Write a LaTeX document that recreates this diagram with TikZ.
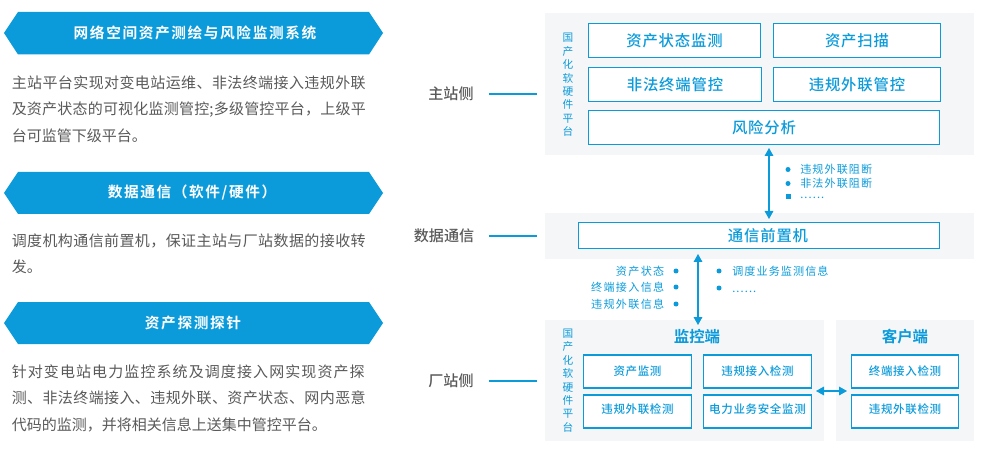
\documentclass[tikz,border=0pt]{standalone}
\usepackage{fontspec}
\setmainfont{Noto Sans CJK SC}
\newfontfamily\banfont[LetterSpace=11]{Noto Sans CJK SC Bold}
\newfontfamily\modfont[LetterSpace=5.5]{Noto Sans CJK SC Medium}
\newfontfamily\notefont[LetterSpace=10]{Noto Sans CJK SC}
\newfontfamily\smallfont[LetterSpace=6]{Noto Sans CJK SC Medium}
\newfontfamily\sidefont{Noto Sans CJK SC Medium}
\newfontfamily\headfont{Noto Sans CJK SC Bold}
\newcommand{\spreadline}[2]{{\addfontfeature{LetterSpace=#1}#2}}
\usepackage{tikz}
\usetikzlibrary{arrows.meta}
\definecolor{bluefill}{HTML}{0B9BDB}
\definecolor{panelgray}{HTML}{F5F6F8}
\definecolor{bodygray}{HTML}{595959}
\tikzset{
  banner/.style={text=white,font=\banfont\fontsize{11pt}{13pt}\selectfont,inner sep=0pt},
  para/.style={text=bodygray,anchor=west,align=left,inner sep=0pt,font=\fontsize{11.25pt}{19.9pt}\selectfont},
  side/.style={text=bodygray,inner sep=0pt,font=\sidefont\fontsize{11.3pt}{13pt}\selectfont},
  module/.style={draw=bluefill,line width=0.9pt,fill=white,text=bluefill,inner sep=0pt,font=\modfont\fontsize{11.5pt}{14pt}\selectfont},
  smallmodule/.style={module,font=\smallfont\fontsize{8.6pt}{11pt}\selectfont},
  head/.style={text=bluefill,inner sep=0pt,font=\headfont\fontsize{11.6pt}{13pt}\selectfont},
  vert/.style={text=bluefill,inner sep=0pt,align=center,font=\fontsize{8pt}{10.05pt}\selectfont},
  note/.style={text=bluefill,inner sep=0pt,font=\notefont\fontsize{8.3pt}{10pt}\selectfont},
  link/.style={draw=bluefill,line width=0.8pt},
  both/.style={link,{Triangle[length=6pt,width=6.5pt]}-{Triangle[length=6pt,width=6.5pt]}},
}
\begin{document}
\begin{tikzpicture}[x=0.75pt,y=-0.75pt]
\useasboundingbox (0,0) rectangle (981,452);

%banners
\fill[bluefill] (4,33) -- (18,12) -- (369,12) -- (383,33) -- (369,54.5) -- (18,54.5) -- cycle;
\fill[bluefill] (4,193) -- (18,172) -- (369,172) -- (383,193) -- (369,214) -- (18,214) -- cycle;
\fill[bluefill] (4,323) -- (18,302) -- (369,302) -- (383,323) -- (369,344) -- (18,344) -- cycle;
\node[banner] (systitle) at (195,33) {网络空间资产测绘与风险监测系统};
\node[banner] (commtitle) at (192,193) {数据通信（软件/硬件）};
\node[banner] (probetitle) at (193,323) {资产探测探针};

%paragraphs
\node[para] (systext) at (11.5,109) {\spreadline{2.7}{主站平台实现对变电站运维、非法终端接入违规外联}\\\spreadline{1.4}{及资产状态的可视化监测管控;多级管控平台，上级平}\\台可监管下级平台。};
\node[para] (commtext) at (11.5,254) {\spreadline{2.7}{调度机构通信前置机，保证主站与厂站数据的接收转}\\发。};
\node[para] (probetext) at (11.5,398) {\spreadline{7.3}{针对变电站电力监控系统及调度接入网实现资产探}\\\spreadline{2.7}{测、非法终端接入、违规外联、资产状态、网内恶意}\\代码的监测，并将相关信息上送集中管控平台。};

%panels
\fill[panelgray] (545,13) rectangle (974,155);
\fill[panelgray] (545,213) rectangle (974,259);
\fill[panelgray] (545,320) rectangle (824,441);
\fill[panelgray] (836,320) rectangle (974,441);

%side labels
\node[side] (mainside) at (451,94) {主站侧};
\node[side] (commside) at (444,236) {数据通信};
\node[side] (plantside) at (451,381) {厂站侧};
\coordinate (mainend) at (537,94);
\coordinate (commend) at (537,236);
\coordinate (plantend) at (537,381);
\coordinate (mainstart) at (489,94);
\coordinate (commstart) at (489,236);
\coordinate (plantstart) at (489,381);
\draw[link] (mainstart) -- (mainend);
\draw[link] (commstart) -- (commend);
\draw[link] (plantstart) -- (plantend);

%vertical text
\node[vert] (topvert) at (568,85) {国\\产\\化\\软\\硬\\件\\平\\台};
\node[vert] (lowvert) at (568,380.5) {国\\产\\化\\软\\硬\\件\\平\\台};

%top boxes
\node[module,minimum width=172pt*0.75,minimum height=34pt*0.75] (state) at (674.5,40.5) {\raisebox{-3pt}{资产状态监测}};
\node[module,minimum width=167pt*0.75,minimum height=34pt*0.75] (scan) at (857,40.5) {\raisebox{-3pt}{资产扫描}};
\node[module,minimum width=173pt*0.75,minimum height=34pt*0.75] (illegal) at (675,84.5) {非法终端管控};
\node[module,minimum width=167pt*0.75,minimum height=34pt*0.75] (violate) at (857,84.5) {违规外联管控};
\node[module,minimum width=351pt*0.75,minimum height=34pt*0.75] (risk) at (764,127.5) {风险分析};
%front box
\node[module,minimum width=361pt*0.75,minimum height=26pt*0.75] (front) at (759,235.5) {\hspace*{13.5pt}通信前置机};

%plant side
\node[head] (monitor) at (697,337) {监控端};
\node[head] (client) at (905,337) {客户端};
\node[smallmodule,minimum width=108pt*0.75,minimum height=33pt*0.75] (assetmon) at (637.5,371.5) {资产监测};
\node[smallmodule,minimum width=108pt*0.75,minimum height=33pt*0.75] (accessdet) at (757.5,371.5) {违规接入检测};
\node[smallmodule,minimum width=108pt*0.75,minimum height=33pt*0.75] (outdet) at (637.5,411.5) {\raisebox{4.4pt}{违规外联检测}};
\node[smallmodule,minimum width=108pt*0.75,minimum height=33pt*0.75] (powerdet) at (757.5,411.5) {\raisebox{4.4pt}{电力业务安全监测}};
\node[smallmodule,minimum width=107pt*0.75,minimum height=33pt*0.75] (termdet) at (905,371.5) {终端接入检测};
\node[smallmodule,minimum width=107pt*0.75,minimum height=33pt*0.75] (clientout) at (905,411.5) {\raisebox{4.4pt}{违规外联检测}};

%arrows
\coordinate (uptop) at (769,148);
\coordinate (upbot) at (769,219);
\coordinate (lowtop) at (698,254);
\coordinate (lowbot) at (698,325);
\coordinate (midleft) at (816,391);
\coordinate (midright) at (847,391);
\draw[both] (uptop) -- (upbot);
\draw[both] (lowtop) -- (lowbot);
\draw[both] (midleft) -- (midright);

%notes
\node[note,anchor=west] (blocka) at (800,169.5) {违规外联阻断};
\node[note,anchor=west] (blockb) at (800,183.5) {非法外联阻断};
\node[note,anchor=base west] (blockc) at (800,199) {......};
\fill[bluefill] (788,169.5) circle (2.5);
\fill[bluefill] (788,183.5) circle (2.5);
\fill[bluefill] (785.5,194.5) rectangle ++(5,5);

\node[note,anchor=east] (stat) at (664.5,271) {\spreadline{12}{资产状态}};
\node[note,anchor=east] (term) at (664.5,287) {\spreadline{12}{终端接入信息}};
\node[note,anchor=east] (viol) at (664.5,304) {\spreadline{12}{违规外联信息}};
\fill[bluefill] (676,271) circle (2.5);
\fill[bluefill] (676,287) circle (2.5);
\fill[bluefill] (676,304) circle (2.5);

\node[note,anchor=west] (dispatch) at (732,271) {调度业务监测信息};
\node[note,anchor=base west] (etc) at (732,292) {......};
\fill[bluefill] (719,271) circle (2.5);
\fill[bluefill] (719,288) circle (2.5);
\end{tikzpicture}
\end{document}
